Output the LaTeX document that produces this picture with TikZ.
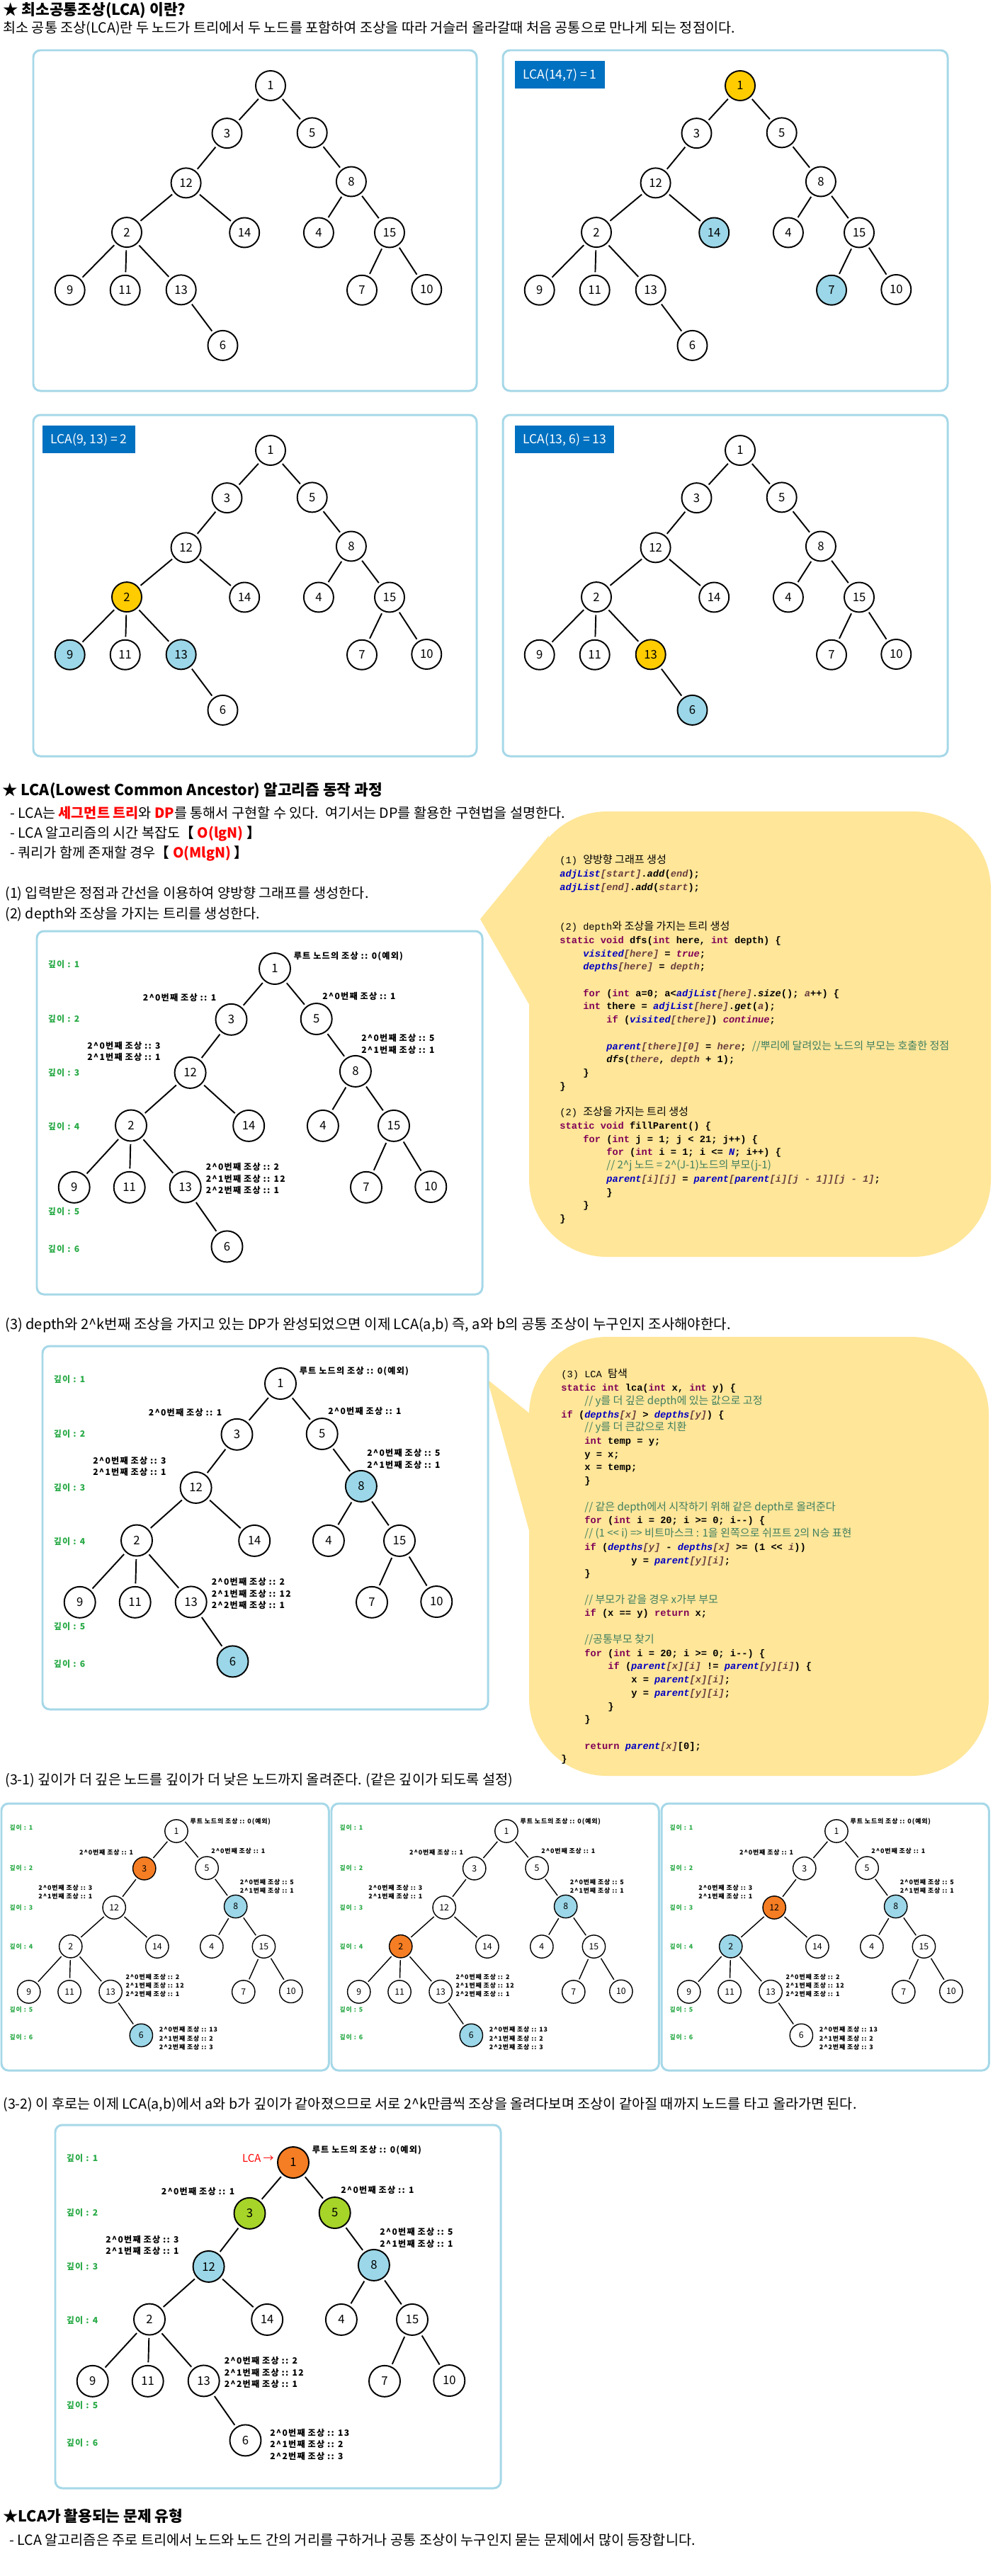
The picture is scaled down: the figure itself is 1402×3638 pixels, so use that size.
\documentclass[tikz,border=0pt]{standalone}
\usepackage{fontspec}
\usepackage{xcolor}
\setmainfont{Noto Sans CJK KR}
\setmonofont{Liberation Mono}
\newfontfamily\krfont{Noto Sans CJK KR}[Scale=1.1]
\newfontfamily\annfont{Noto Sans CJK KR}[LetterSpace=10]

\definecolor{kwc}{RGB}{127,0,85}
\definecolor{fdc}{RGB}{0,0,192}
\definecolor{pvc}{RGB}{106,62,62}
\definecolor{cmc}{RGB}{63,127,95}
\definecolor{panelc}{RGB}{166,216,232}
\definecolor{bubc}{RGB}{255,230,153}
\definecolor{gold}{RGB}{255,204,0}
\definecolor{sky}{RGB}{155,215,232}
\definecolor{orng}{RGB}{245,125,35}
\definecolor{lime}{RGB}{166,212,40}
\definecolor{lblc}{RGB}{0,112,192}
\definecolor{deepc}{RGB}{40,170,70}

\newlength\tabw
\setlength\tabw{0.66cm}
\newcommand\codetab[1]{\hspace*{#1\tabw}}
\newcommand\ckw[1]{\textcolor{kwc}{#1}}
\newcommand\cfd[1]{\textcolor{fdc}{\itshape #1}}
\newcommand\cpv[1]{\textcolor{pvc}{\itshape #1}}
\newcommand\ccm[1]{\textcolor{cmc}{\krfont\mdseries #1}}
\newcommand\ancline[2]{2\textasciicircum#1번째 조상 :: #2}

\tikzset{
  vtx/.style={circle,draw,line width=1.1pt,fill=white,minimum size=0.88cm,inner sep=0pt,outer sep=2.5pt,font=\fontsize{9.5}{11}\selectfont},
  edge/.style={line width=1.1pt},
  frame/.style={draw=panelc,line width=1.7pt,rounded corners=0.2cm},
  dlab/.style={anchor=west,inner sep=0pt,text=deepc,font=\annfont\bfseries\fontsize{6.9}{9.4}\selectfont},
  ann/.style={inner sep=0pt,align=left,font=\annfont\bfseries\fontsize{6.9}{9.42}\selectfont},
  txt/.style={anchor=west,inner sep=0pt,font=\fontsize{11.2}{13}\selectfont},
  head/.style={anchor=west,inner sep=0pt,font=\bfseries\fontsize{12.2}{14}\selectfont},
  lcabox/.style={anchor=north west,fill=lblc,text=white,inner xsep=0.22cm,minimum height=0.78cm,font=\fontsize{10}{12}\selectfont},
  lcatag/.style={anchor=east,inner sep=0pt,text=red,font=\fontsize{8.5}{10}\selectfont},
  code/.style={anchor=north west,inner sep=0pt,align=left,font=\ttfamily\bfseries\fontsize{7.8}{10.66}\selectfont},
  bubble/.style={fill=bubc}
}

\newcommand\lcatree[1]{%
  \foreach \n/\px/\py in {1/0/0,3/-61.5/71.8,5/58.7/71,12/-119.4/146.9,8/113.9/144.9,2/-203/221.5,14/-36.8/221.9,4/67.9/221.9,15/168/221.9,9/-283.3/308.8,11/-205.3/308.8,13/-126.3/308.4,7/129/308.8,10/220.3/308,6/-67.5/392.4}
    \node[vtx,hl\n/.try] (#1\n) at (\px,\py) {\n};
  \foreach \u/\v in {1/3,1/5,3/12,5/8,12/2,12/14,8/4,8/15,2/9,2/11,2/13,15/7,15/10,13/6}
    \draw[edge] (#1\u) -- (#1\v);
}

\newcommand\depthpanel[2]{%
  \draw[frame] (0,0) rectangle (629,513);
  \foreach \d/\dy in {1/46.5,2/124.4,3/199.8,4/275.6,5/395.5,6/449}
    \node[dlab] (#1d\d) at (15.5,\dy) {깊이 : \d};
  \begin{scope}[shift={(336,53)}]
    \lcatree{#1}
  \end{scope}
  \node[ann,anchor=west] (#1n1) at (362.5,35.2) {루트 노드의 조상 :: 0(예외)};
  \node[ann,anchor=east] (#1n3) at (253.5,93.7) {\ancline{0}{1}};
  \node[ann,anchor=west] (#1n5) at (403,91.7) {\ancline{0}{1}};
  \node[ann,anchor=west] (#1n12) at (71,170) {\ancline{0}{3}\\\ancline{1}{1}};
  \node[ann,anchor=west] (#1n8) at (458,159.4) {\ancline{0}{5}\\\ancline{1}{1}};
  \node[ann,anchor=west] (#1n13) at (238.5,349.6) {\ancline{0}{2}\\\ancline{1}{12}\\\ancline{2}{1}};
  \ifnum#2=1
    \node[ann,anchor=west] (#1n6) at (303,451.4) {\ancline{0}{13}\\\ancline{1}{2}\\\ancline{2}{3}};
  \fi
}

\begin{document}
\begin{tikzpicture}[x=0.02cm,y=-0.02cm]
\useasboundingbox (0,0) rectangle (1402,3638);
\fill[white] (0,0) rectangle (1402,3638);

\node[head] (title) at (4,15) {★ 최소공통조상(LCA) 이란?};
\node[txt] (intro) at (4,40) {최소 공통 조상(LCA)란 두 노드가 트리에서 두 노드를 포함하여 조상을 따라 거슬러 올라갈때 처음 공통으로 만나게 되는 정점이다.};

\draw[frame] (47,71) rectangle (673,552);
\draw[frame] (710,71) rectangle (1338,552);
\draw[frame] (47,586) rectangle (673,1068);
\draw[frame] (710,586) rectangle (1338,1068);
\node[lcabox] (q1) at (727,86) {LCA(14,7) = 1};
\node[lcabox] (q2) at (60,601) {LCA(9, 13) = 2};
\node[lcabox] (q3) at (727,601) {LCA(13, 6) = 13};
\begin{scope}[shift={(382,121)},yscale=0.935,vtx/.append style={minimum size=0.84cm}]
  \lcatree{a}
\end{scope}
\begin{scope}[shift={(1045,121)},yscale=0.935,vtx/.append style={minimum size=0.84cm},
  hl1/.style={fill=gold},hl14/.style={fill=sky},hl7/.style={fill=sky}]
  \lcatree{b}
\end{scope}
\begin{scope}[shift={(382,636)},yscale=0.935,vtx/.append style={minimum size=0.84cm},
  hl2/.style={fill=gold},hl9/.style={fill=sky},hl13/.style={fill=sky}]
  \lcatree{c}
\end{scope}
\begin{scope}[shift={(1045,636)},yscale=0.935,vtx/.append style={minimum size=0.84cm},
  hl13/.style={fill=gold},hl6/.style={fill=sky}]
  \lcatree{e}
\end{scope}

\node[head] (algo) at (3,1117) {★ LCA(Lowest Common Ancestor) 알고리즘 동작 과정};
\node[txt] (bul1) at (14,1148) {- LCA는 \textcolor{red}{\bfseries 세그먼트 트리}와 \textcolor{red}{\bfseries DP}를 통해서 구현할 수 있다.\ \ 여기서는 DP를 활용한 구현법을 설명한다.};
\node[txt] (bul2) at (14,1177) {- LCA 알고리즘의 시간 복잡도{\bfseries【 \textcolor{red}{O(lgN)} 】}};
\node[txt] (bul3) at (14,1205) {- 쿼리가 함께 존재할 경우{\bfseries【 \textcolor{red}{O(MlgN)} 】}};
\node[txt] (step1) at (7,1262) {(1) 입력받은 정점과 간선을 이용하여 양방향 그래프를 생성한다.};
\node[txt] (step2) at (7,1292) {(2) depth와 조상을 가지는 트리를 생성한다.};

\fill[bubble] (678,1298) -- (775,1180) -- (748,1420) -- cycle;
\fill[bubble,rounded corners=2.2cm] (747,1146) rectangle (1399,1775);
\begin{scope}[shift={(52,1315)}]
  \depthpanel{d}{0}
\end{scope}
\node[code] (code1) at (790,1207) {%
{\mdseries(1) \krfont 양방향 그래프 생성}\\
\cfd{adjList}\cpv{[start]}.\textit{add}(\cpv{end});\\
\cfd{adjList}\cpv{[end]}.\textit{add}(\cpv{start});\\
\mbox{}\\
\mbox{}\\
{\mdseries(2) depth\krfont 와 조상을 가지는 트리 생성}\\
\ckw{static} \ckw{void} dfs(\ckw{int} here, \ckw{int} depth) \{\\
\codetab1\cfd{visited}\cpv{[here]} = \ckw{\itshape true};\\
\codetab1\cfd{depths}\cpv{[here]} = \cpv{depth};\\
\mbox{}\\
\codetab1\ckw{for} (\ckw{int} a=0; a<\cfd{adjList}\cpv{[here]}.\textit{size}(); \cpv{a}++) \{\\
\codetab1\ckw{int} there = \cfd{adjList}\cpv{[here]}.\textit{get}(\cpv{a});\\
\codetab2\ckw{if} (\cfd{visited}\cpv{[there]}) \ckw{\itshape continue};\\
\mbox{}\\
\codetab2\cfd{parent}\cpv{[there][0]} = \cpv{here}; \ccm{//뿌리에 달려있는 노드의 부모는 호출한 정점}\\
\codetab2\textit{dfs}(\cpv{there}, \cpv{depth} + 1);\\
\codetab1\}\\
\}\\
\mbox{}\\
{\mdseries(2) \krfont 조상을 가지는 트리 생성}\\
\ckw{static} \ckw{void} fillParent() \{\\
\codetab1\ckw{for} (\ckw{int} j = 1; j < 21; j++) \{\\
\codetab2\ckw{for} (\ckw{int} i = 1; i <= \cfd{N}; i++) \{\\
\codetab2\ccm{// 2\textasciicircum j 노드 = 2\textasciicircum(J-1)노드의 부모(j-1)}\\
\codetab2\cfd{parent}\cpv{[i][j]} = \cfd{parent}\cpv{[}\cfd{parent}\cpv{[i][j - 1]][j - 1]};\\
\codetab2\}\\
\codetab1\}\\
\}};

\node[txt,font=\fontsize{11.4}{13}\selectfont] (step3) at (7,1871) {(3) depth와 2\textasciicircum k번째 조상을 가지고 있는 DP가 완성되었으면 이제 LCA(a,b) 즉, a와 b의 공통 조상이 누구인지 조사해야한다.};
\fill[bubble] (688,1948) -- (765,2010) -- (748,2165) -- cycle;
\fill[bubble,rounded corners=2.2cm] (747,1888) rectangle (1396,2508);
\begin{scope}[shift={(60,1901)},hl8/.style={fill=sky},hl6/.style={fill=sky}]
  \depthpanel{f}{0}
\end{scope}
\node[code] (code2) at (792,1933) {%
{\mdseries(3) LCA \krfont 탐색}\\
\ckw{static} \ckw{int} lca(\ckw{int} x, \ckw{int} y) \{\\
\codetab1\ccm{// y를 더 깊은 depth에 있는 값으로 고정}\\
\ckw{if} (\cfd{depths}\cpv{[x]} > \cfd{depths}\cpv{[y]}) \{\\
\codetab1\ccm{// y를 더 큰값으로 치환}\\
\codetab1\ckw{int} temp = y;\\
\codetab1y = x;\\
\codetab1x = temp;\\
\codetab1\}\\
\mbox{}\\
\codetab1\ccm{// 같은 depth에서 시작하기 위해 같은 depth로 올려준다}\\
\codetab1\ckw{for} (\ckw{int} i = 20; i >= 0; i--) \{\\
\codetab1\ccm{// (1 << i) => 비트마스크 : 1을 왼쪽으로 쉬프트 2의 N승 표현}\\
\codetab1\ckw{if} (\cfd{depths}\cpv{[y]} - \cfd{depths}\cpv{[x]} >= (1 << \cpv{i}))\\
\codetab3y = \cfd{parent}\cpv{[y][i]};\\
\codetab1\}\\
\mbox{}\\
\codetab1\ccm{// 부모가 같을 경우 x가부 부모}\\
\codetab1\ckw{if} (x == y) \ckw{return} x;\\
\mbox{}\\
\codetab1\ccm{//공통부모 찾기}\\
\codetab1\ckw{for} (\ckw{int} i = 20; i >= 0; i--) \{\\
\codetab2\ckw{if} (\cfd{parent}\cpv{[x][i]} != \cfd{parent}\cpv{[y][i]}) \{\\
\codetab3x = \cfd{parent}\cpv{[x][i]};\\
\codetab3y = \cfd{parent}\cpv{[y][i]};\\
\codetab2\}\\
\codetab1\}\\
\mbox{}\\
\codetab1\ckw{return} \cfd{parent}\cpv{[x]}[0];\\
\}};

\node[txt] (step31) at (7,2514) {(3-1) 깊이가 더 깊은 노드를 깊이가 더 낮은 노드까지 올려준다. (같은 깊이가 되도록 설정)};
\begin{scope}[shift={(2,2547)},scale=0.735,transform shape,vtx/.append style={line width=0.8pt},edge/.append style={line width=0.8pt},
  hl3/.style={fill=orng},hl8/.style={fill=sky},hl6/.style={fill=sky}]
  \depthpanel{g}{1}
\end{scope}
\begin{scope}[shift={(468,2547)},scale=0.735,transform shape,vtx/.append style={line width=0.8pt},edge/.append style={line width=0.8pt},
  hl2/.style={fill=orng},hl8/.style={fill=sky},hl6/.style={fill=sky}]
  \depthpanel{h}{1}
\end{scope}
\begin{scope}[shift={(934,2547)},scale=0.735,transform shape,vtx/.append style={line width=0.8pt},edge/.append style={line width=0.8pt},
  hl12/.style={fill=orng},hl8/.style={fill=sky},hl2/.style={fill=sky}]
  \depthpanel{k}{1}
\end{scope}

\node[txt] (step32) at (4,2972) {(3-2) 이 후로는 이제 LCA(a,b)에서 a와 b가 깊이가 같아졌으므로 서로 2\textasciicircum k만큼씩 조상을 올려다보며 조상이 같아질 때까지 노드를 타고 올라가면 된다.};
\begin{scope}[shift={(78,3001)},hl1/.style={fill=orng},hl3/.style={fill=lime},hl5/.style={fill=lime},hl12/.style={fill=sky},hl8/.style={fill=sky}]
  \depthpanel{m}{1}
  \node[lcatag] (lcamark) at (309,47) {LCA →};
\end{scope}

\node[head] (usage) at (4,3553) {★LCA가 활용되는 문제 유형};
\node[txt] (usage1) at (13,3587) {- LCA 알고리즘은 주로 트리에서 노드와 노드 간의 거리를 구하거나 공통 조상이 누구인지 묻는 문제에서 많이 등장합니다.};
\end{tikzpicture}
\end{document}
